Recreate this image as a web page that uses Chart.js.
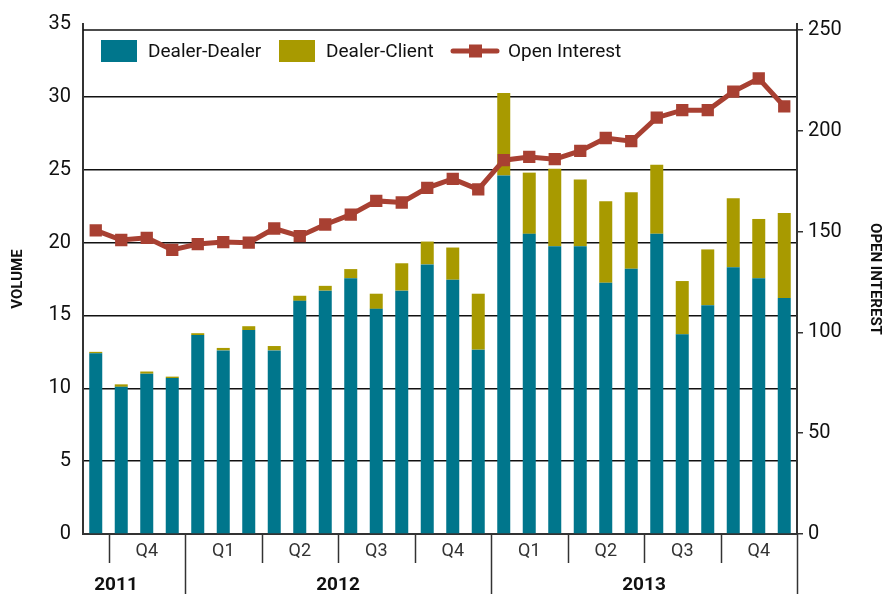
<!DOCTYPE html>
<html>
<head>
<meta charset="utf-8">
<script src="https://cdn.jsdelivr.net/npm/chart.js@4.4.1/dist/chart.umd.min.js"></script>
<style>
  body { margin: 0; background: #fff; }
  #wrap { width: 884px; height: 600px; }
</style>
</head>
<body>
<div id="wrap"><canvas id="myChart"></canvas></div>
<script>
const months = ['Sep 2011', 'Oct 2011', 'Nov 2011', 'Dec 2011',
  'Jan 2012', 'Feb 2012', 'Mar 2012', 'Apr 2012', 'May 2012', 'Jun 2012',
  'Jul 2012', 'Aug 2012', 'Sep 2012', 'Oct 2012', 'Nov 2012', 'Dec 2012',
  'Jan 2013', 'Feb 2013', 'Mar 2013', 'Apr 2013', 'May 2013', 'Jun 2013',
  'Jul 2013', 'Aug 2013', 'Sep 2013', 'Oct 2013', 'Nov 2013', 'Dec 2013'];

const dealerDealer = [12.4, 10.1, 11.0, 10.7, 13.65, 12.6, 14.0, 12.6, 16.0, 16.7, 17.55, 15.45,
  16.7, 18.5, 17.45, 12.65, 24.6, 20.6, 19.75, 19.75, 17.25, 18.2, 20.6, 13.7, 15.7, 18.3, 17.55, 16.2];

const dealerClient = [0.1, 0.17, 0.15, 0.1, 0.13, 0.17, 0.26, 0.3, 0.35, 0.33, 0.63, 1.04,
  1.88, 1.57, 2.21, 3.84, 5.67, 4.2, 5.32, 4.57, 5.59, 5.25, 4.74, 3.66, 3.83, 4.74, 4.07, 5.83];

const openInterest = [150.6, 145.8, 146.9, 140.9, 143.8, 144.8, 144.5, 151.5, 147.7, 153.5, 158.4, 165.2,
  164.4, 171.7, 176.1, 170.9, 185.4, 187.0, 185.9, 190.0, 196.4, 194.8, 206.5, 210.2, 210.2, 219.4, 225.9, 212.1];

const volumeTicks = [0, 5, 10, 15, 20, 25, 30, 35];
const interestTicks = [0, 50, 100, 150, 200, 250];

// quarter / year groupings of the month index
const quarterLabels = ['Q4', 'Q1', 'Q2', 'Q3', 'Q4', 'Q1', 'Q2', 'Q3', 'Q4'];
const quarterFirst = [1, 4, 7, 10, 13, 16, 19, 22, 25];
const yearLabels = ['2011', '2012', '2013'];
const yearFirst = [0, 4, 16];

const TEAL = '#00768C';
const OLIVE = '#A89A00';
const RED = '#A84032';
const FONT = "Roboto, 'Liberation Sans', sans-serif";

// draws the top border, grouped x labels and the in-plot legend
const decor = {
  id: 'decor',
  afterDraw(chart) {
    const { ctx, chartArea: a, scales: { x, y1 } } = chart;
    const base = a.bottom;
    ctx.save();

    const topY = y1.getPixelForValue(250);
    ctx.strokeStyle = '#111';
    ctx.lineWidth = 1.5;
    ctx.beginPath();
    ctx.moveTo(a.left, topY);
    ctx.lineTo(a.right, topY);
    ctx.stroke();

    // separators
    ctx.strokeStyle = '#333';
    ctx.lineWidth = 1.5;
    const last = months.length - 1;
    const seps = quarterFirst.map(q => [q - 0.5, yearFirst.includes(q)]);
    seps.push([last + 0.5, true]);
    seps.forEach(([v, long]) => {
      const px = Math.round(x.getPixelForValue(v)) + 0.5;
      ctx.beginPath();
      ctx.moveTo(px, base);
      ctx.lineTo(px, long ? base + 60 : base + 29);
      ctx.stroke();
    });

    ctx.textAlign = 'center';
    ctx.textBaseline = 'middle';
    ctx.fillStyle = '#333';
    ctx.font = '18px ' + FONT;
    quarterLabels.forEach((lab, i) => {
      ctx.fillText(lab, x.getPixelForValue(quarterFirst[i] + 1), base + 17);
    });

    ctx.fillStyle = '#111';
    ctx.font = 'bold 19px ' + FONT;
    yearLabels.forEach((lab, i) => {
      const from = yearFirst[i] - 0.5;
      const to = (i + 1 < yearFirst.length ? yearFirst[i + 1] : months.length) - 0.5;
      let cx = (x.getPixelForValue(from) + x.getPixelForValue(to)) / 2;
      if (i === 0) cx -= 18;
      ctx.fillText(lab, cx, base + 51);
    });

    // legend
    const ly = 51;
    ctx.font = '19px ' + FONT;
    ctx.textAlign = 'left';
    ctx.fillStyle = TEAL;
    ctx.fillRect(101, ly - 11, 36, 22);
    ctx.fillStyle = OLIVE;
    ctx.fillRect(279, ly - 11, 36, 22);
    ctx.strokeStyle = RED;
    ctx.lineWidth = 5;
    ctx.lineCap = 'round';
    ctx.beginPath();
    ctx.moveTo(453, ly);
    ctx.lineTo(497, ly);
    ctx.stroke();
    ctx.fillStyle = RED;
    ctx.fillRect(469, ly - 6.5, 13, 13);
    ctx.fillStyle = '#111';
    ctx.fillText('Dealer-Dealer', 148, ly + 1);
    ctx.fillText('Dealer-Client', 326, ly + 1);
    ctx.fillText('Open Interest', 508, ly + 1);

    ctx.restore();
  }
};

const ctx = document.getElementById('myChart').getContext('2d');

new Chart(ctx, {
  data: {
    labels: months,
    datasets: [
      {
        type: 'line',
        label: 'Open Interest',
        data: openInterest,
        yAxisID: 'y1',
        borderColor: RED,
        backgroundColor: RED,
        borderWidth: 5,
        tension: 0,
        pointStyle: 'rect',
        pointRadius: 8.7,
        pointBorderWidth: 0,
        pointBackgroundColor: RED,
        order: 0
      },
      {
        type: 'bar',
        label: 'Dealer-Dealer',
        data: dealerDealer,
        backgroundColor: TEAL,
        yAxisID: 'y',
        stack: 'vol',
        barPercentage: 0.51,
        categoryPercentage: 1,
        order: 1
      },
      {
        type: 'bar',
        label: 'Dealer-Client',
        data: dealerClient,
        backgroundColor: OLIVE,
        yAxisID: 'y',
        stack: 'vol',
        barPercentage: 0.51,
        categoryPercentage: 1,
        order: 2
      }
    ]
  },
  options: {
    responsive: true,
    maintainAspectRatio: false,
    animation: false,
    layout: { padding: { top: 16, bottom: 66, left: 0, right: 0 } },
    plugins: {
      legend: { display: false },
      tooltip: { enabled: false }
    },
    scales: {
      x: {
        stacked: true,
        offset: true,
        ticks: { display: false },
        grid: { display: false },
        border: { display: true, color: '#333', width: 2 },
        afterFit(s) { s.height = 0; }
      },
      y: {
        position: 'left',
        stacked: true,
        min: 0,
        max: 35,
        afterBuildTicks(s) { s.ticks = volumeTicks.map(v => ({ value: v })); },
        ticks: {
          color: '#111',
          padding: 12,
          font: { family: FONT, size: 20 }
        },
        grid: {
          drawTicks: false,
          lineWidth: 1.5,
          color: c => (c.tick.value === 0 || c.tick.value === 35) ? 'rgba(0,0,0,0)' : '#111'
        },
        border: { display: true, color: '#333', width: 2 },
        title: {
          display: true,
          text: 'VOLUME',
          color: '#111',
          font: { family: FONT, size: 15, weight: 'bold' },
          padding: { top: 9, bottom: 0 }
        },
        afterFit(s) { s.width = 83; }
      },
      y1: {
        position: 'right',
        min: 0,
        max: 252.93,
        afterBuildTicks(s) { s.ticks = interestTicks.map(v => ({ value: v })); },
        ticks: {
          color: '#111',
          padding: 5,
          font: { family: FONT, size: 20 }
        },
        grid: {
          drawOnChartArea: false,
          drawTicks: true,
          tickLength: 6,
          lineWidth: 1.5,
          color: '#333'
        },
        border: { display: true, color: '#333', width: 2 },
        title: {
          display: true,
          text: 'OPEN INTEREST',
          color: '#111',
          font: { family: FONT, size: 15, weight: 'bold' },
          padding: { top: 0, bottom: 0 }
        },
        afterFit(s) { s.width = 87; }
      }
    }
  },
  plugins: [decor]
});
</script>
</body>
</html>
